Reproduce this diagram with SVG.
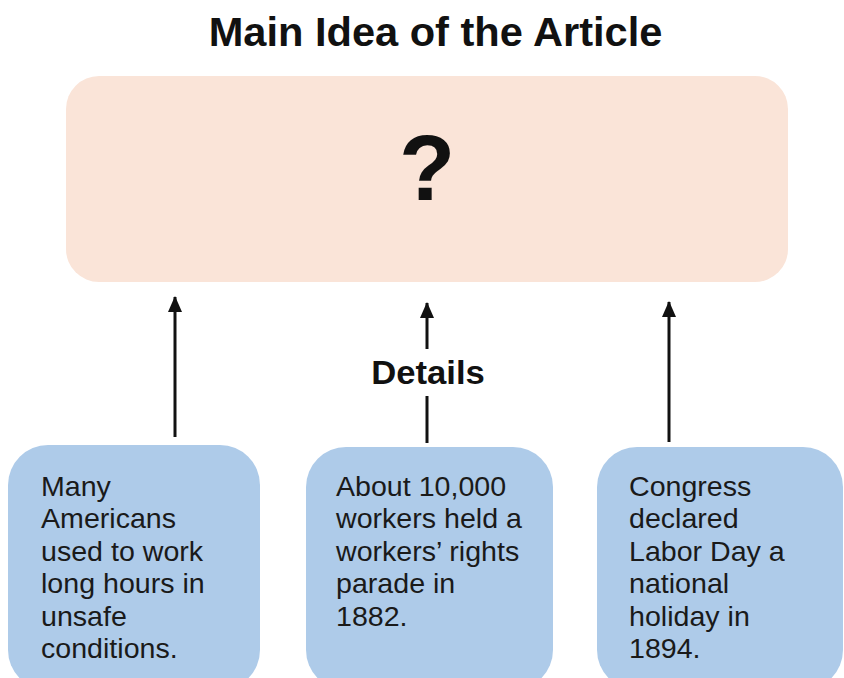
<svg xmlns="http://www.w3.org/2000/svg" width="844" height="678" viewBox="0 0 844 678">
  <style>
    .title { font-family: "Liberation Sans", Arial, sans-serif; font-weight: bold; fill: #111; }
    .detail { font-family: "Liberation Sans", Arial, sans-serif; font-size: 27.5px; fill: #1a1a1a; }
    .main-box { fill: #FAE4D8; }
    .fact-box { fill: #AECBE9; }
    .link { stroke: #111; stroke-width: 3; fill: none; }
  </style>
  <defs>
    <marker id="head" markerUnits="userSpaceOnUse" markerWidth="16" markerHeight="14" viewBox="0 0 16 14" refX="15" refY="7" orient="auto">
      <path d="M0,0 L16,7 L0,14 Z" fill="#111"/>
    </marker>
  </defs>

  <rect width="844" height="678" fill="#ffffff"/>

  <!-- heading -->
  <g id="heading">
    <text class="title" font-size="40" text-anchor="middle" transform="translate(435.5,46) scale(1.04,1)">Main Idea of the Article</text>
  </g>

  <!-- main idea box -->
  <g id="main-idea">
    <rect class="main-box" x="66" y="76" width="722" height="206" rx="33" ry="33"/>
    <text class="title" font-size="92" text-anchor="middle" x="427" y="200">?</text>
  </g>

  <!-- connectors from the detail boxes up to the main idea -->
  <g id="connectors">
    <line class="link" x1="175" y1="437" x2="175" y2="297" marker-end="url(#head)"/>
    <line class="link" x1="427" y1="349" x2="427" y2="303" marker-end="url(#head)"/>
    <line class="link" x1="427" y1="443" x2="427" y2="396"/>
    <line class="link" x1="669" y1="442" x2="669" y2="302" marker-end="url(#head)"/>
  </g>

  <g id="details-label">
    <text class="title" font-size="33" text-anchor="middle" transform="translate(428,384) scale(1.05,1)">Details</text>
  </g>

  <!-- detail boxes -->
  <g id="detail-1">
    <rect class="fact-box" x="8" y="445" width="252" height="245" rx="40" ry="40"/>
    <g transform="translate(41,0) scale(1.04,1)">
      <text class="detail" x="0" y="496">Many</text>
      <text class="detail" x="0" y="528.5">Americans</text>
      <text class="detail" x="0" y="561">used to work</text>
      <text class="detail" x="0" y="593.5">long hours in</text>
      <text class="detail" x="0" y="626">unsafe</text>
      <text class="detail" x="0" y="658.5">conditions.</text>
    </g>
  </g>

  <g id="detail-2">
    <rect class="fact-box" x="306" y="447" width="247" height="243" rx="40" ry="40"/>
    <g transform="translate(336,0) scale(1.04,1)">
      <text class="detail" x="0" y="496">About 10,000</text>
      <text class="detail" x="0" y="528.5">workers held a</text>
      <text class="detail" x="0" y="561">workers’ rights</text>
      <text class="detail" x="0" y="593.5">parade in</text>
      <text class="detail" x="0" y="626">1882.</text>
    </g>
  </g>

  <g id="detail-3">
    <rect class="fact-box" x="597" y="447" width="246" height="243" rx="40" ry="40"/>
    <g transform="translate(629,0) scale(1.04,1)">
      <text class="detail" x="0" y="496">Congress</text>
      <text class="detail" x="0" y="528.5">declared</text>
      <text class="detail" x="0" y="561">Labor Day a</text>
      <text class="detail" x="0" y="593.5">national</text>
      <text class="detail" x="0" y="626">holiday in</text>
      <text class="detail" x="0" y="658.5">1894.</text>
    </g>
  </g>
</svg>
